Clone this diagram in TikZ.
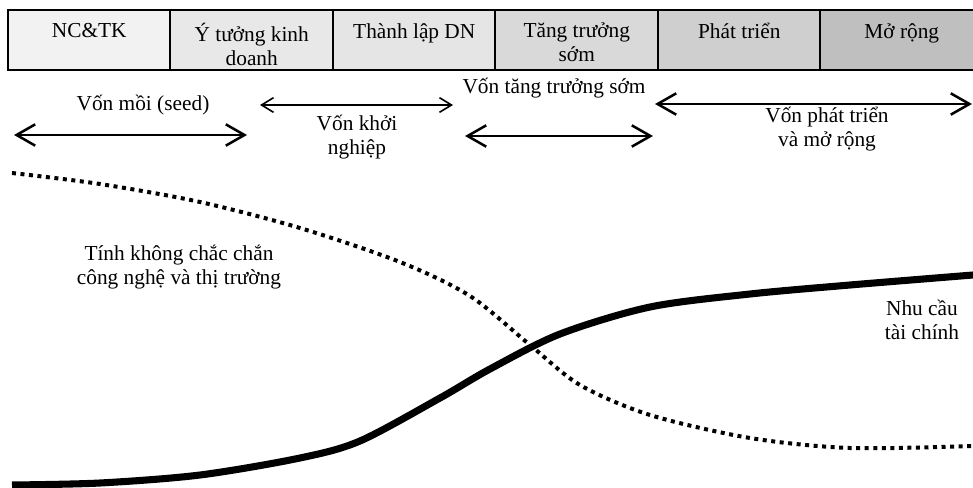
\documentclass[tikz,border=0pt]{standalone}
\usepackage{fontspec}
\setmainfont{Liberation Serif}
\usepackage{xcolor}
\usetikzlibrary{positioning,calc,arrows.meta}

\begin{document}
\begin{tikzpicture}[x=0.75pt, y=-0.75pt,
                % Style cho các ô giai đoạn
                stagebox/.style={rectangle, draw=black, line width=1.5pt, minimum width=121.9pt, minimum height=45pt, inner sep=0pt},
                stagetext/.style={anchor=north, align=center, font=\fontsize{16}{18}\selectfont, inner sep=0pt},
                % Style mũi tên vốn
                bigfund/.style={{Straight Barb[length=14pt, width=16pt, line width=1.9pt]}-{Straight Barb[length=14pt, width=16pt, line width=1.9pt]}, line width=1.9pt},
                smallfund/.style={{Straight Barb[length=9pt, width=11pt, line width=1.2pt]}-{Straight Barb[length=9pt, width=11pt, line width=1.2pt]}, line width=1.2pt},
                % Style nhãn
                fundlabel/.style={align=center, font=\fontsize{16}{18}\selectfont, inner sep=0pt},
                % Style đường cong
                riskcurve/.style={line width=3pt, dash pattern=on 3pt off 3.4pt},
                needcurve/.style={line width=5.3pt}
            ]
                \useasboundingbox (0,0) rectangle (973,488);

                % --- CÁC GIAI ĐOẠN ---
                \node[stagebox, fill=gray!10] (s1) at (89.25, 40) {};
                \node[stagebox, fill=gray!18] (s2) at (251.75, 40) {};
                \node[stagebox, fill=gray!20] (s3) at (414.25, 40) {};
                \node[stagebox, fill=gray!30] (s4) at (576.75, 40) {};
                \node[stagebox, fill=gray!38] (s5) at (739.25, 40) {};
                \node[stagebox, fill=gray!50] (s6) at (901.75, 40) {};

                \node[stagetext] at ($(s1.north)+(0,14)$) {NC\&TK};
                \node[stagetext] at ($(s2.north)+(0,14)$) {Ý tưởng kinh\\doanh};
                \node[stagetext] at ($(s3.north)+(0,14)$) {Thành lập DN};
                \node[stagetext] at ($(s4.north)+(0,14)$) {Tăng trưởng\\sớm};
                \node[stagetext] at ($(s5.north)+(0,14)$) {Phát triển};
                \node[stagetext] at ($(s6.north)+(0,14)$) {Mở rộng};

                % --- CÁC LOẠI VỐN ---
                \coordinate (seedL) at (14, 135);   \coordinate (seedR) at (247, 135);
                \coordinate (startL) at (260, 105); \coordinate (startR) at (453, 105);
                \coordinate (earlyL) at (465, 136); \coordinate (earlyR) at (653, 136);
                \coordinate (growL) at (655, 104);  \coordinate (growR) at (972, 104);

                \draw[bigfund] (seedL) -- (seedR);
                \draw[smallfund] (startL) -- (startR);
                \draw[bigfund] (earlyL) -- (earlyR);
                \draw[bigfund] (growL) -- (growR);

                \node[fundlabel] (seed) at (143, 105) {Vốn mồi (seed)};
                \node[fundlabel] (start) at (357, 137) {Vốn khởi\\nghiệp};
                \node[fundlabel] (early) at (554, 88) {Vốn tăng trưởng sớm};
                \node[fundlabel] (grow) at (827, 129) {Vốn phát triển\\và mở rộng};

                % --- ĐƯỜNG CONG ---
                \draw[riskcurve] plot[smooth] coordinates {(12,173) (100,184) (200,202) (300,228) (400,262) (470,296) (530,345) (580,385) (650,415) (750,438) (850,448) (973,446)};
                \draw[needcurve] plot[smooth] coordinates {(12,485) (100,483) (200,475) (300,458) (360,441) (440,398) (490,369) (560,334) (650,307) (750,294) (850,285) (973,275)};

                \node[fundlabel] (risk) at (179, 267) {Tính không chắc chắn\\công nghệ và thị trường};
                \node[fundlabel] (need) at (922, 320) {Nhu cầu\\tài chính};

            \end{tikzpicture}
\end{document}
